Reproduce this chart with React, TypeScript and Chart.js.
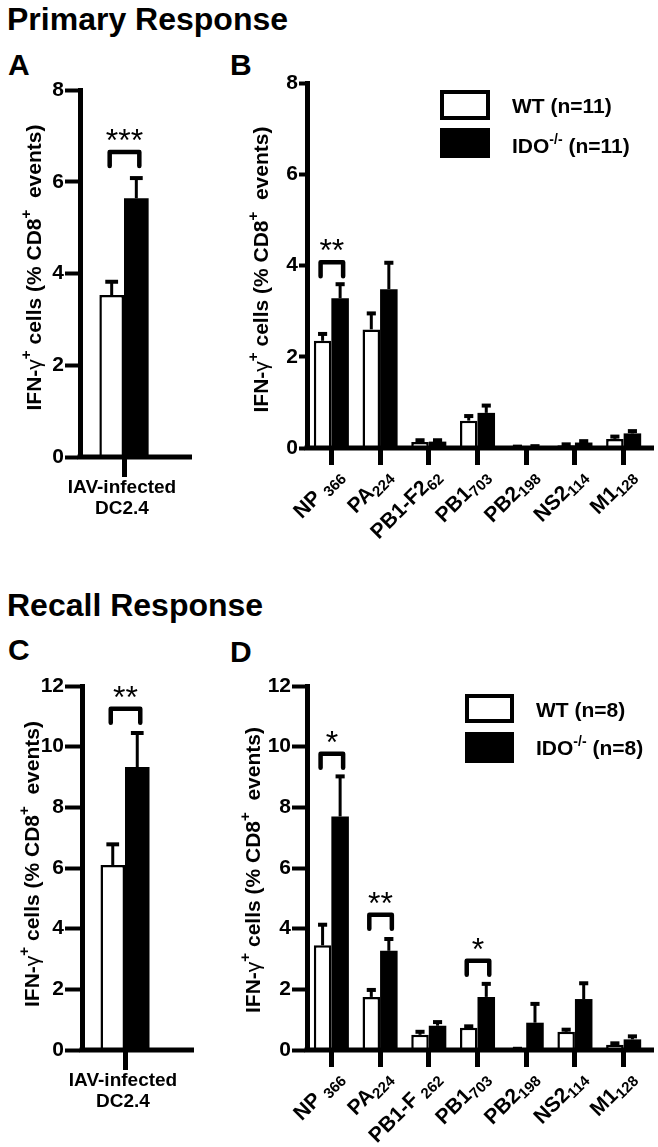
import React, { useEffect, useRef } from 'react';
import { Chart, registerables } from 'chart.js';
Chart.register(...registerables);

const FF = '"Liberation Sans", Arial, Helvetica, sans-serif';

// ---------- Panel A (primary, IAV-infected DC2.4) ----------
const xLinesA = ['IAV-infected', 'DC2.4'];
const wtA = [3.53];
const wtErrA = [0.29];
const idoA = [5.64];
const idoErrA = [0.44];
const sigCatsA = [0];
const sigLevelsA = [6.65];
const sigTextA = ['***'];

// ---------- Panel B (primary, epitopes) ----------
const epitopesB = ['NP ', 'PA', 'PB1-F2', 'PB1', 'PB2', 'NS2', 'M1'];
const epitopeSubsB = ['366', '224', '62', '703', '198', '114', '128'];
const wtB = [2.35, 2.6, 0.13, 0.6, 0.02, 0.06, 0.2];
const wtErrB = [0.15, 0.35, 0.04, 0.1, 0.01, 0.02, 0.05];
const idoB = [3.28, 3.48, 0.14, 0.77, 0.03, 0.12, 0.32];
const idoErrB = [0.31, 0.58, 0.03, 0.16, 0.01, 0.03, 0.05];
const sigCatsB = [0];
const sigLevelsB = [4.07];
const sigTextB = ['**'];
const legendWtB = 'WT (n=11)';
const legendIdoB = ['IDO', '-/-', ' (n=11)'];

// ---------- Panel C (recall, IAV-infected DC2.4) ----------
const xLinesC = ['IAV-infected', 'DC2.4'];
const wtC = [6.1];
const wtErrC = [0.68];
const idoC = [9.33];
const idoErrC = [1.12];
const sigCatsC = [0];
const sigLevelsC = [11.25];
const sigTextC = ['**'];

// ---------- Panel D (recall, epitopes) ----------
const epitopesD = ['NP ', 'PA', 'PB1-F ', 'PB1', 'PB2', 'NS2', 'M1'];
const epitopeSubsD = ['366', '224', '262', '703', '198', '114', '128'];
const wtD = [3.45, 1.75, 0.5, 0.73, 0.03, 0.6, 0.17];
const wtErrD = [0.68, 0.23, 0.1, 0.05, 0.01, 0.07, 0.05];
const idoD = [7.7, 3.27, 0.8, 1.75, 0.9, 1.68, 0.35];
const idoErrD = [1.32, 0.39, 0.12, 0.43, 0.62, 0.52, 0.1];
const sigCatsD = [0, 1, 3];
const sigLevelsD = [9.77, 4.46, 2.94];
const sigTextD = ['*', '**', '*'];
const legendWtD = 'WT (n=8)';
const legendIdoD = ['IDO', '-/-', ' (n=8)'];

// axis
const yMaxPrimary = 8;
const yMaxRecall = 12;
const yStep = 2;
const yTitleParts = ['IFN-', '\u03b3', '+', ' cells (% CD8', '+', '  events)'];
const yTitleKinds = ['b', 'g', 'sup', 'b', 'sup', 'b'];

type Seg = { t: string; font: string; dy: number };

function drawSegs(ctx: CanvasRenderingContext2D, segs: Seg[], x: number, y: number, align: 'left' | 'center' | 'right') {
  let total = 0;
  segs.forEach((s) => { ctx.font = s.font; total += ctx.measureText(s.t).width; });
  let cx = align === 'left' ? x : align === 'center' ? x - total / 2 : x - total;
  ctx.textAlign = 'left';
  ctx.textBaseline = 'alphabetic';
  segs.forEach((s) => {
    ctx.font = s.font;
    ctx.fillText(s.t, cx, y + s.dy);
    cx += ctx.measureText(s.t).width;
  });
}

interface LegendCfg { x: number; w: number; y1: number; h1: number; y2: number; h2: number; tx: number; b1: number; b2: number; wt: string; ido: string[] }

interface PanelCfg {
  left: number; top: number; width: number; height: number;
  area: { l: number; r: number; t: number; b: number };
  labels: string[];
  wt: number[]; wtErr: number[]; ido: number[]; idoErr: number[];
  yMax: number; yTickLen: number; catPct: number; axisEnd: number; xTickLen: number;
  sigCats: number[]; sigLevels: number[]; sigText: string[];
  titleX: number; titleDy: number;
  lines?: string[];
  subMain?: string[]; subSub?: string[];
  legend?: LegendCfg;
}

function makeDecor(p: PanelCfg) {
  return {
    id: 'decor',
    afterDatasetsDraw(chart: any) {
      const ctx = chart.ctx as CanvasRenderingContext2D;
      const a = chart.chartArea;
      const ys = chart.scales.y;
      const xs = chart.scales.x;
      ctx.save();
      ctx.strokeStyle = '#000';
      ctx.fillStyle = '#000';
      // x axis line
      ctx.lineWidth = 5;
      ctx.lineCap = 'butt';
      ctx.beginPath();
      ctx.moveTo(a.left - 2.5, a.bottom);
      ctx.lineTo(p.axisEnd, a.bottom);
      ctx.stroke();
      // error bars
      const sets: [number[], number[]][] = [[p.wt, p.wtErr], [p.ido, p.idoErr]];
      sets.forEach(([vals, errs], di) => {
        const meta = chart.getDatasetMeta(di);
        meta.data.forEach((el: any, i: number) => {
          const yTop = ys.getPixelForValue(vals[i] + errs[i]);
          const yBar = ys.getPixelForValue(vals[i]);
          const hw = el.width * 0.26;
          ctx.lineWidth = 3;
          ctx.beginPath(); ctx.moveTo(el.x, yBar); ctx.lineTo(el.x, yTop); ctx.stroke();
          ctx.lineWidth = 4;
          ctx.beginPath(); ctx.moveTo(el.x - hw, yTop); ctx.lineTo(el.x + hw, yTop); ctx.stroke();
        });
      });
      // significance brackets
      const m0 = chart.getDatasetMeta(0);
      const m1 = chart.getDatasetMeta(1);
      p.sigCats.forEach((c, k) => {
        const x1 = m0.data[c].x - 2;
        const x2 = m1.data[c].x + 3;
        const yb = ys.getPixelForValue(p.sigLevels[k]);
        ctx.lineWidth = 4.5; ctx.lineJoin = 'round'; ctx.lineCap = 'round';
        ctx.beginPath(); ctx.moveTo(x1, yb + 14); ctx.lineTo(x1, yb); ctx.lineTo(x2, yb); ctx.lineTo(x2, yb + 14); ctx.stroke();
        ctx.font = `32px ${FF}`; ctx.textAlign = 'center'; ctx.textBaseline = 'alphabetic';
        ctx.fillText(p.sigText[k], (x1 + x2) / 2, yb - 1);
      });
      ctx.lineCap = 'butt'; ctx.lineJoin = 'miter';
      // x labels
      if (p.lines) {
        const tx = xs.getPixelForTick(0);
        ctx.font = `bold 19px ${FF}`; ctx.textAlign = 'center'; ctx.textBaseline = 'alphabetic';
        p.lines.forEach((l, j) => ctx.fillText(l, tx - 2, a.bottom + 36 + j * 21));
      }
      if (p.subMain && p.subSub) {
        p.subMain.forEach((m, i) => {
          const tx = xs.getPixelForTick(i);
          ctx.save();
          ctx.translate(tx + 8, a.bottom + 24);
          ctx.rotate(-Math.PI / 4);
          drawSegs(ctx, [
            { t: m, font: `bold 21px ${FF}`, dy: 0 },
            { t: p.subSub![i], font: `bold 15px ${FF}`, dy: 4 },
          ], 0, 7, 'right');
          ctx.restore();
        });
      }
      // y title
      ctx.save();
      ctx.translate(p.titleX, (a.top + a.bottom) / 2 + p.titleDy);
      ctx.rotate(-Math.PI / 2);
      const segs: Seg[] = yTitleParts.map((t, i) => {
        const k = yTitleKinds[i];
        if (k === 'sup') return { t, font: `bold 15px ${FF}`, dy: -10 };
        if (k === 'g') return { t, font: `21px ${FF}`, dy: 0 };
        return { t, font: `bold 21px ${FF}`, dy: 0 };
      });
      drawSegs(ctx, segs, 0, 8, 'center');
      ctx.restore();
      // legend
      if (p.legend) {
        const L = p.legend;
        ctx.fillStyle = '#fff';
        ctx.fillRect(L.x, L.y1, L.w, L.h1);
        ctx.lineWidth = 4; ctx.strokeStyle = '#000';
        ctx.strokeRect(L.x + 2, L.y1 + 2, L.w - 4, L.h1 - 4);
        ctx.fillStyle = '#000';
        ctx.fillRect(L.x, L.y2, L.w, L.h2);
        drawSegs(ctx, [{ t: L.wt, font: `bold 21px ${FF}`, dy: 0 }], L.tx, L.b1, 'left');
        drawSegs(ctx, [
          { t: L.ido[0], font: `bold 21px ${FF}`, dy: 0 },
          { t: L.ido[1], font: `bold 14px ${FF}`, dy: -9 },
          { t: L.ido[2], font: `bold 21px ${FF}`, dy: 0 },
        ], L.tx, L.b2, 'left');
      }
      ctx.restore();
    },
  };
}

function Panel({ p }: { p: PanelCfg }) {
  const ref = useRef<HTMLCanvasElement>(null);
  useEffect(() => {
    const chart = new Chart(ref.current!, {
      type: 'bar',
      data: {
        labels: p.labels,
        datasets: [
          { label: 'WT', data: p.wt, backgroundColor: '#fff', borderColor: '#000', borderWidth: 2.5, barPercentage: 1, categoryPercentage: p.catPct },
          { label: 'IDO-/-', data: p.ido, backgroundColor: '#000', borderColor: '#000', borderWidth: 0, barPercentage: 1, categoryPercentage: p.catPct },
        ],
      },
      options: {
        animation: false,
        responsive: false,
        maintainAspectRatio: false,
        layout: { padding: { left: 0, top: p.area.t, right: p.width - p.area.r, bottom: 0 } },
        plugins: { legend: { display: false }, tooltip: { enabled: false } },
        scales: {
          x: {
            offset: true,
            ticks: { display: false },
            grid: { display: true, drawOnChartArea: false, drawTicks: true, tickLength: p.xTickLen, tickWidth: 5, tickColor: '#000', offset: false },
            border: { display: false },
            afterFit: (s: any) => { s.height = p.height - p.area.b; },
          },
          y: {
            min: 0,
            max: p.yMax,
            ticks: { stepSize: yStep, color: '#000', padding: 1, font: { family: FF, size: 21, weight: 'bold' } },
            grid: { drawOnChartArea: false, drawTicks: true, tickLength: p.yTickLen, tickWidth: 4, tickColor: '#000' },
            border: { display: true, color: '#000', width: 5 },
            afterFit: (s: any) => { s.width = p.area.l; },
          },
        },
      } as any,
      plugins: [makeDecor(p)],
    });
    return () => chart.destroy();
  }, []);
  return (
    <canvas
      ref={ref}
      width={p.width}
      height={p.height}
      style={{ position: 'absolute', left: p.left, top: p.top, width: p.width, height: p.height }}
    />
  );
}

const panelA: PanelCfg = {
  left: 0, top: 0, width: 210, height: 560,
  area: { l: 80, r: 168, t: 90, b: 457 },
  labels: [xLinesA.join(' ')],
  wt: wtA, wtErr: wtErrA, ido: idoA, idoErr: idoErrA,
  yMax: yMaxPrimary, yTickLen: 15, catPct: 0.56, axisEnd: 192, xTickLen: 20,
  sigCats: sigCatsA, sigLevels: sigLevelsA, sigText: sigTextA,
  titleX: 33, titleDy: -6,
  lines: xLinesA,
};

const panelB: PanelCfg = {
  left: 210, top: 0, width: 448, height: 560,
  area: { l: 97, r: 438, t: 83, b: 448 },
  labels: epitopesB.map((m, i) => m + epitopeSubsB[i]),
  wt: wtB, wtErr: wtErrB, ido: idoB, idoErr: idoErrB,
  yMax: yMaxPrimary, yTickLen: 8, catPct: 0.72, axisEnd: 444, xTickLen: 17,
  sigCats: sigCatsB, sigLevels: sigLevelsB, sigText: sigTextB,
  titleX: 50, titleDy: 4,
  subMain: epitopesB, subSub: epitopeSubsB,
  legend: { x: 230, w: 50, y1: 90, h1: 30, y2: 128, h2: 30, tx: 302, b1: 113, b2: 153, wt: legendWtB, ido: legendIdoB },
};

const panelC: PanelCfg = {
  left: 0, top: 580, width: 210, height: 567,
  area: { l: 82, r: 168, t: 106, b: 470 },
  labels: [xLinesC.join(' ')],
  wt: wtC, wtErr: wtErrC, ido: idoC, idoErr: idoErrC,
  yMax: yMaxRecall, yTickLen: 17, catPct: 0.57, axisEnd: 194, xTickLen: 20,
  sigCats: sigCatsC, sigLevels: sigLevelsC, sigText: sigTextC,
  titleX: 31, titleDy: -4,
  lines: xLinesC,
};

const panelD: PanelCfg = {
  left: 210, top: 580, width: 448, height: 567,
  area: { l: 97, r: 438, t: 106, b: 470 },
  labels: epitopesD.map((m, i) => m + epitopeSubsD[i]),
  wt: wtD, wtErr: wtErrD, ido: idoD, idoErr: idoErrD,
  yMax: yMaxRecall, yTickLen: 15, catPct: 0.72, axisEnd: 444, xTickLen: 17,
  sigCats: sigCatsD, sigLevels: sigLevelsD, sigText: sigTextD,
  titleX: 42, titleDy: 2,
  subMain: epitopesD, subSub: epitopeSubsD,
  legend: { x: 255, w: 49, y1: 114, h1: 29, y2: 152, h2: 31, tx: 326, b1: 137, b2: 175, wt: legendWtD, ido: legendIdoD },
};

function Txt({ text, x, baseline, size }: { text: string; x: number; baseline: number; size: number }) {
  return (
    <div style={{ position: 'absolute', left: x, top: baseline - 0.8465 * size, fontFamily: FF, fontWeight: 'bold', fontSize: size, lineHeight: 1, whiteSpace: 'nowrap', color: '#000' }}>
      {text}
    </div>
  );
}

export default function App() {
  return (
    <div style={{ position: 'absolute', left: 0, top: 0, width: 658, height: 1147, background: '#fff', overflow: 'hidden' }}>
      <Txt text="Primary Response" x={7} baseline={30} size={32} />
      <Txt text="A" x={8} baseline={75} size={30} />
      <Txt text="B" x={230} baseline={75} size={30} />
      <Txt text="Recall Response" x={7} baseline={616} size={32} />
      <Txt text="C" x={8} baseline={660} size={30} />
      <Txt text="D" x={230} baseline={662} size={30} />
      <Panel p={panelA} />
      <Panel p={panelB} />
      <Panel p={panelC} />
      <Panel p={panelD} />
    </div>
  );
}
